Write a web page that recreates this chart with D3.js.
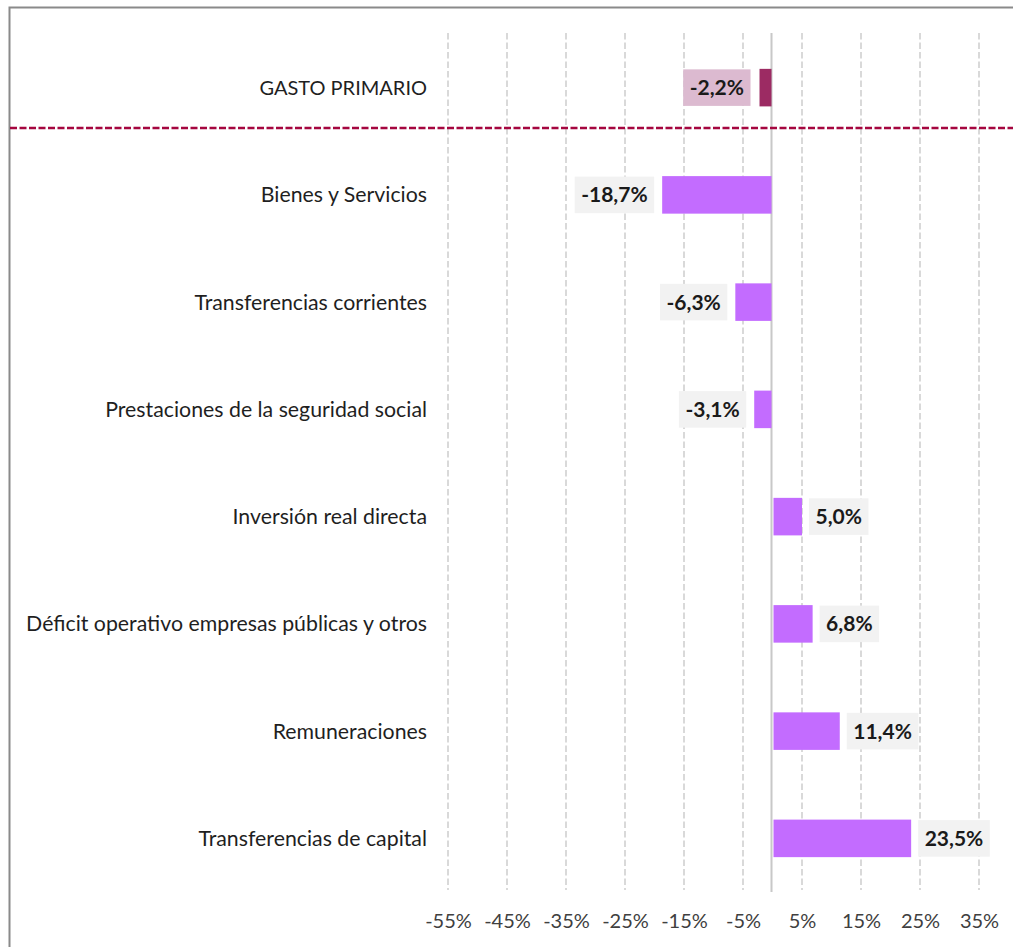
<!DOCTYPE html>
<html>
<head>
<meta charset="utf-8">
<script src="https://cdn.jsdelivr.net/npm/d3@7"></script>
<style>
  body { margin: 0; background: #fff; }
  svg { display: block; font-family: Lato, "Open Sans", sans-serif; }
</style>
</head>
<body>
<div id="chart"></div>
<script>
// Categories (top to bottom) and their variation in %
var categories = [
    "GASTO PRIMARIO",
    "Bienes y Servicios",
    "Transferencias corrientes",
    "Prestaciones de la seguridad social",
    "Inversión real directa",
    "Déficit operativo empresas públicas y otros",
    "Remuneraciones",
    "Transferencias de capital"
];
var values = [-2.2, -18.7, -6.3, -3.1, 5.0, 6.8, 11.4, 23.5];
var tickValues = [-55, -45, -35, -25, -15, -5, 5, 15, 25, 35];

var data = categories.map(function(c, i) {
    return { name: c, value: values[i], total: i === 0 };
});

var width = 1013, height = 947;

var svg = d3.select("#chart")
    .append("svg")
    .attr("width", width)
    .attr("height", height);

// Scales
var x = d3.scaleLinear().domain([-55, 35]).range([448, 979]);
var y = d3.scaleBand()
    .domain(categories)
    .range([34, 892])
    .paddingInner(0.65)
    .paddingOuter(0.325);

// Frame (top and left border)
svg.append("path")
    .attr("d", "M9.5," + height + "V7.5H" + width)
    .attr("fill", "none")
    .attr("stroke", "#8a8a8a")
    .attr("stroke-width", 2);

// Dashed gridlines
svg.selectAll(".grid")
    .data(tickValues)
    .enter().append("line")
    .attr("class", "grid")
    .attr("x1", function(d) { return x(d); })
    .attr("x2", function(d) { return x(d); })
    .attr("y1", y.range()[0] - 1)
    .attr("y2", y.range()[1] - 2)
    .attr("stroke", "#d9d9d9")
    .attr("stroke-width", 2)
    .attr("stroke-dasharray", "6.5,3");

// Zero line
svg.append("line")
    .attr("x1", x(0) - 1)
    .attr("x2", x(0) - 1)
    .attr("y1", y.range()[0] - 1)
    .attr("y2", y.range()[1])
    .attr("stroke", "#c8c8c8")
    .attr("stroke-width", 2);

// Separator under GASTO PRIMARIO
var sepY = Math.round(y(categories[0]) + y.bandwidth() + 22);
svg.append("line")
    .attr("x1", 10)
    .attr("x2", width)
    .attr("y1", sepY)
    .attr("y2", sepY)
    .attr("stroke", "#a5063f")
    .attr("stroke-width", 2.5)
    .attr("stroke-dasharray", "7,2.5");

// Bars
svg.selectAll(".bar")
    .data(data)
    .enter().append("rect")
    .attr("class", "bar")
    .attr("x", function(d) { return d.value < 0 ? x(d.value) : x(0) + 1; })
    .attr("y", function(d) { return y(d.name); })
    .attr("width", function(d) { return Math.abs(x(d.value) - x(0)) - 1; })
    .attr("height", y.bandwidth())
    .attr("fill", function(d) { return d.total ? "#9c2b63" : "#c36cff"; });

// Value labels with boxes
var fmt = function(v) { return v.toFixed(1).replace(".", ",") + "%"; };
var labels = svg.selectAll(".lbl")
    .data(data)
    .enter().append("g")
    .attr("class", "lbl");

labels.append("rect")
    .attr("fill", function(d) { return d.total ? "#dcbad0" : "#f2f2f2"; });

labels.append("text")
    .attr("font-size", "21px")
    .attr("font-weight", "bold")
    .attr("fill", "#1a1a1a")
    .attr("dy", "0.36em")
    .text(function(d) { return fmt(d.value); });

labels.each(function(d) {
    var g = d3.select(this);
    var tw = g.select("text").node().getComputedTextLength();
    var bw = tw + 13, bh = y.bandwidth() - 1;
    var cy = y(d.name) + y.bandwidth() / 2;
    var bx = d.value < 0 ? x(d.value) - (d.total ? 9 : 8) - bw : x(d.value) + 7;
    g.select("rect")
        .attr("x", bx).attr("y", cy - bh / 2)
        .attr("width", bw).attr("height", bh);
    g.select("text")
        .attr("x", bx + 6.5).attr("y", cy);
});

// Category labels
svg.selectAll(".cat")
    .data(data)
    .enter().append("text")
    .attr("class", "cat")
    .attr("x", 427)
    .attr("y", function(d) { return y(d.name) + y.bandwidth() / 2; })
    .attr("dy", "0.35em")
    .attr("text-anchor", "end")
    .attr("font-size", function(d) { return d.total ? "20px" : "21.3px"; })
    .attr("fill", "#1f1f1f")
    .text(function(d) { return d.name; });

// X axis tick labels
var axis = svg.append("g")
    .attr("transform", "translate(0,911)")
    .call(d3.axisBottom(x)
        .tickValues(tickValues)
        .tickSize(0)
        .tickFormat(function(d) { return d + "%"; }));
axis.select(".domain").remove();
axis.selectAll("text")
    .attr("font-family", "Lato, sans-serif")
    .attr("font-size", "20px")
    .attr("fill", "#404040");
</script>
</body>
</html>
